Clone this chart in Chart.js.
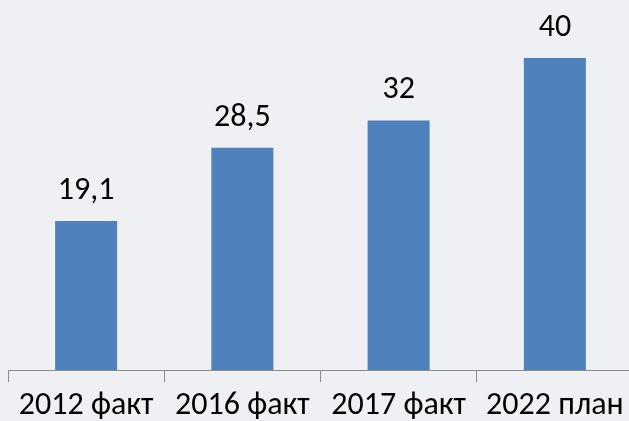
<!DOCTYPE html>
<html>
<head>
<meta charset="utf-8">
<script src="https://cdn.jsdelivr.net/npm/chart.js@4"></script>
<style>
  html, body { margin: 0; padding: 0; overflow: hidden; background: #eff0f4; }
  canvas { display: block; }
</style>
</head>
<body>
<canvas id="chart" width="640" height="421"></canvas>
<script>
// Chart data
const categories = ['2012 факт', '2016 факт', '2017 факт', '2022 план'];
const values = [19.1, 28.5, 32, 40];
const valueLabels = ['19,1', '28,5', '32', '40'];

const FONT = '"Carlito", "Liberation Sans Narrow", "Open Sans", sans-serif';

// Draw the value above every bar
const barLabels = {
  id: 'barLabels',
  afterDatasetsDraw(chart) {
    const ctx = chart.ctx;
    const meta = chart.getDatasetMeta(0);
    ctx.save();
    ctx.fillStyle = '#000';
    ctx.font = '32px ' + FONT;
    ctx.textAlign = 'center';
    ctx.textBaseline = 'middle';
    meta.data.forEach((bar, i) => {
      ctx.fillText(valueLabels[i], bar.x, bar.y - 30);
    });
    ctx.restore();
  }
};

new Chart(document.getElementById('chart'), {
  type: 'bar',
  data: {
    labels: categories,
    datasets: [{
      data: values,
      backgroundColor: '#4f81bd',
      borderWidth: 0,
      barPercentage: 0.397,
      categoryPercentage: 1
    }]
  },
  options: {
    responsive: false,
    animation: false,
    layout: { padding: { top: 19, left: 8, right: 7, bottom: 0 } },
    plugins: {
      legend: { display: false },
      tooltip: { enabled: false }
    },
    scales: {
      y: { display: false, min: 0, max: 45 },
      x: {
        afterFit(scale) { scale.height = 51; },
        border: { display: true, color: '#8c8c8c', width: 1 },
        grid: {
          display: true,
          drawOnChartArea: false,
          drawTicks: true,
          tickLength: 12,
          color: '#8c8c8c',
          offset: true
        },
        ticks: {
          color: '#000',
          padding: 5,
          font: { family: FONT, size: 32 }
        }
      }
    }
  },
  plugins: [barLabels]
});
</script>
</body>
</html>
